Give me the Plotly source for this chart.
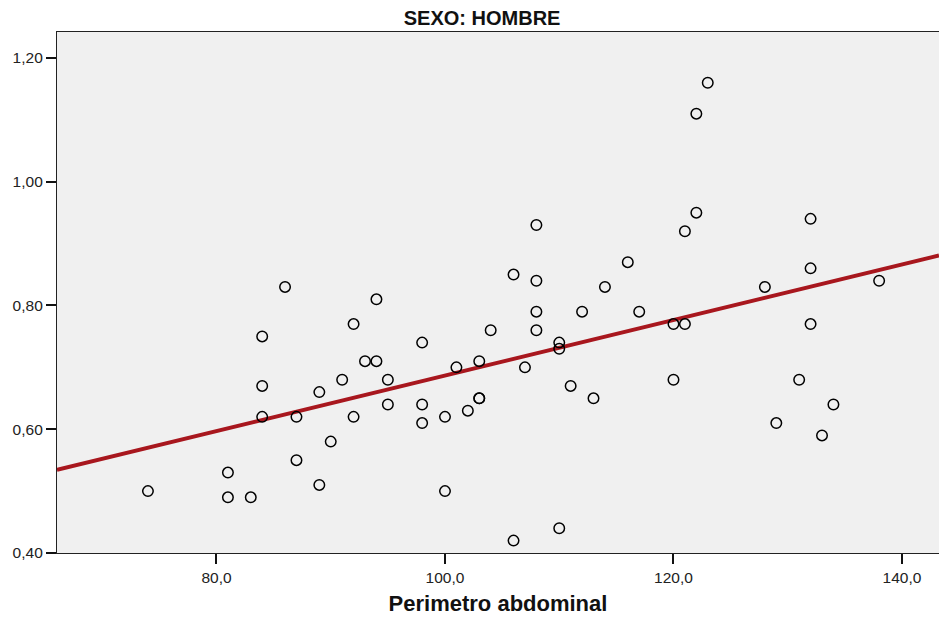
import numpy as np
import plotly.graph_objects as go

# Perimetro abdominal (x) vs. ratio (y), SEXO: HOMBRE
perimetro = [74, 81, 81, 83, 84, 84, 84, 86, 87, 87, 89, 89, 90, 91, 92, 92, 93,
             94, 94, 95, 95, 98, 98, 98, 100, 100, 101, 102, 103, 103, 103, 104,
             106, 106, 107, 108, 108, 108, 108, 110, 110, 110, 111, 112, 113, 114,
             116, 117, 120, 120, 121, 121, 122, 122, 123, 128, 129, 131, 132, 132,
             132, 133, 134, 138]
valor = [0.50, 0.53, 0.49, 0.49, 0.75, 0.67, 0.62, 0.83, 0.62, 0.55, 0.66, 0.51,
         0.58, 0.68, 0.77, 0.62, 0.71, 0.81, 0.71, 0.68, 0.64, 0.74, 0.64, 0.61,
         0.62, 0.50, 0.70, 0.63, 0.71, 0.65, 0.65, 0.76, 0.85, 0.42, 0.70, 0.93,
         0.84, 0.79, 0.76, 0.74, 0.73, 0.44, 0.67, 0.79, 0.65, 0.83, 0.87, 0.79,
         0.77, 0.68, 0.92, 0.77, 1.11, 0.95, 1.16, 0.83, 0.61, 0.68, 0.94, 0.86,
         0.77, 0.59, 0.64, 0.84]

x_ticks = [80, 100, 120, 140]
y_ticks = [0.40, 0.60, 0.80, 1.00, 1.20]
x_range = [66.04, 143.24]
y_range = [0.40, 1.242]

# Linear least-squares fit line
slope, intercept = np.polyfit(perimetro, valor, 1)
fit_x = np.array(x_range)
fit_y = slope * fit_x + intercept

fig = go.Figure()
fig.add_trace(go.Scatter(
    x=fit_x, y=fit_y, mode="lines",
    line=dict(color="#A8171E", width=4),
    hoverinfo="skip", showlegend=False,
))
fig.add_trace(go.Scatter(
    x=perimetro, y=valor, mode="markers",
    marker=dict(symbol="circle", size=10.5, color="rgba(0,0,0,0)",
                line=dict(color="black", width=1.5)),
    showlegend=False,
))

axis_font = dict(family="Liberation Sans, Arial, sans-serif", size=15.5, color="#222")

fig.update_layout(
    width=939, height=619,
    margin=dict(l=57, r=0, t=32, b=66),
    paper_bgcolor="white",
    plot_bgcolor="#F0F0F0",
    separators=",.",
    font=dict(family="Liberation Sans, Arial, sans-serif", color="#111"),
    title=dict(text="<b>SEXO: HOMBRE</b>", x=0.482, xref="paper",
               y=1 - 18 / 619, yref="container", xanchor="center", yanchor="middle",
               font=dict(size=20, color="#111")),
)
fig.update_xaxes(
    range=x_range, tickvals=x_ticks, tickformat=".1f",
    showgrid=False, zeroline=False,
    showline=True, linecolor="#222", linewidth=1.3, mirror=True,
    ticks="outside", ticklen=10, tickwidth=1.5, tickcolor="#111",
    tickfont=axis_font,
    title=dict(text="<b>Perimetro abdominal</b>", standoff=10,
               font=dict(size=22, color="#111")),
)
fig.update_yaxes(
    range=y_range, tickvals=y_ticks, tickformat=".2f",
    showgrid=False, zeroline=False,
    showline=True, linecolor="#222", linewidth=1.3,
    ticks="outside", ticklen=10, tickwidth=1.5, tickcolor="#111",
    tickfont=axis_font,
)

fig.write_html("out.html")
